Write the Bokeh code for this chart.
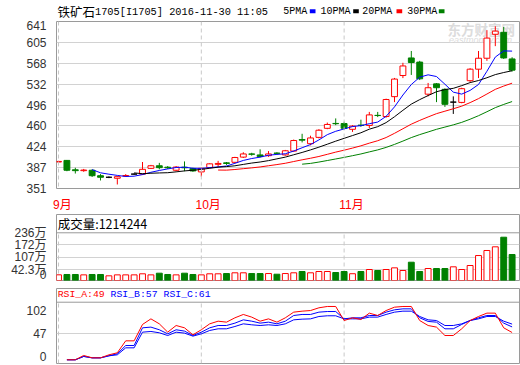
import numpy as np
import pandas as pd
from bokeh.plotting import figure
from bokeh.layouts import column
from bokeh.models import Range1d, FixedTicker, Span, ColumnDataSource, CustomJSTickFormatter
from bokeh.core.properties import value
from bokeh.embed import file_html
from bokeh.resources import INLINE

# ---------------- data ----------------
opens = [397, 399.8, 383.5, 382, 382.7, 373.2, 370.5, 368.8, 372.5, 376,
         376, 386, 390.5, 388, 382.7, 388, 385.5, 379.8, 387.2, 393,
         395.5, 396.5, 405.5, 411, 409.3, 408, 412.5, 409.3, 416, 436,
         428.8, 439.8, 455.5, 464, 463.8, 453.8, 461, 460.5, 478, 476,
         510.5, 547.2, 577.7, 570.5, 514.8, 532.7, 523.2, 501, 500.5, 538.2,
         558.2, 577.2, 618.8, 622.2, 576]
highs = [399, 400.5, 387, 385, 384, 376, 372, 372, 376, 377,
         397, 392, 395.5, 390, 390, 398, 387, 387, 395, 399,
         397, 406, 414, 413, 419, 416, 414, 418, 436, 446,
         442.7, 454, 465.5, 472.7, 467, 461, 470.5, 484, 484, 507,
         543, 569.3, 589.8, 572.7, 534.3, 534, 525, 511, 526, 560,
         589.8, 626, 632.7, 631.5, 579]
lows = [395, 381, 377, 380, 371, 365, 369, 358, 371, 375,
        375, 385, 384.3, 385, 381, 381, 380, 371.5, 386, 388,
        392, 395, 404, 408, 405, 406, 410, 408, 415, 431,
        426, 438, 454, 461, 453, 449.3, 458, 456, 475, 474,
        501, 542.7, 548.2, 539.3, 511, 501, 492.7, 480.5, 499, 536,
        542.7, 572.7, 598.2, 576, 554]
closes = [398, 382.7, 382, 383, 373.2, 370.5, 370.5, 371.5, 373.5, 376,
          384.3, 390.5, 387.2, 387, 388.2, 387, 381.5, 386, 393.8, 394.5,
          394.5, 404.8, 411, 410.5, 406.5, 411, 412, 416.5, 434.3, 435,
          438.8, 452.2, 462.2, 463.5, 455.5, 459.3, 460.5, 478.8, 477.7, 505.5,
          541, 563.8, 569.8, 541.5, 526, 526, 497.2, 501, 524.3, 558.2,
          577.2, 612.2, 624.3, 577.7, 556.5]
volumes = [14.3, 16, 16, 14, 16, 16, 9, 14, 14, 14,
           19.6, 14, 22.8, 16, 14, 22.8, 16, 14, 19.6, 19.6,
           21, 24.9, 24.9, 21, 21, 21, 17.5, 21, 24.9, 31.7,
           24.9, 31.7, 31.7, 26.5, 31.7, 20, 31.7, 42.3, 37, 42.3,
           51, 37, 80.8, 31.7, 47.6, 47.6, 47.6, 56.5, 42.3, 63.4,
           116, 142.6, 162, 212.7, 121.4]  # 万
# RSI values from index 1 onward
rsi_a = [10, 10, 16.2, 12.8, 12.8, 17.1, 20, 37.1, 37.1, 60.5,
         68.5, 61.4, 49.5, 59, 55.7, 45.7, 52.9, 61.4, 65.2, 63.8,
         70, 74.8, 71, 65.2, 68.5, 63.8, 70, 78.1, 79.5, 80.4,
         84.3, 86.2, 86.2, 66.1, 70, 67.6, 76.7, 73.3, 80.4, 85.2,
         86.2, 86.2, 66.1, 59, 56.7, 44.7, 44.7, 54.3, 66.1, 71.9,
         76.7, 76.7, 55.7, 49]
rsi_b = [10, 10, 14.8, 12.8, 12.8, 15.7, 18.6, 30.4, 30.4, 55.7,
         56.7, 52.9, 47.1, 52.9, 51, 44.7, 49.5, 55.7, 59, 59,
         62.4, 67.1, 65.2, 62.4, 63.8, 61.4, 65.2, 73.3, 74.8, 74.8,
         78.1, 79, 79, 68.5, 70, 70, 73.3, 73.3, 78.1, 81.4,
         82.8, 82.8, 70, 64.8, 63.8, 54.3, 54.3, 60.5, 66.1, 70,
         73.3, 73.3, 62.4, 57]
rsi_c = [10, 10, 14.8, 12.8, 12.8, 15.7, 17.1, 27.1, 27.1, 49.5,
         50.5, 48.6, 44.7, 49.5, 48.1, 43.8, 47.1, 51.9, 54.3, 54.3,
         57.6, 61.4, 60, 59, 60, 59, 61.4, 67.1, 68.1, 68.5,
         71.9, 72.9, 72.9, 68.5, 68.5, 68.5, 71, 71, 74.8, 78.1,
         79.5, 79.5, 71.9, 67.1, 66.1, 59, 59, 61.4, 66.1, 68.5,
         71.9, 71.9, 65.2, 61]

month_idx = [0, 17, 34]
month_labels = ["9月", "10月", "11月"]
price_ticks = [351, 387.25, 423.5, 459.75, 496, 532.25, 568.5, 604.75, 641]
price_labels = ["351", "387", "424", "460", "496", "532", "568", "605", "641"]
vol_ticks = [42.3, 107, 172, 236]
vol_labels = ["42.3万", "107万", "172万", "236万"]
rsi_labels = ["0", "47", "102"]
ma_periods = [5, 10, 20, 30]
ma_names = ["5PMA", "10PMA", "20PMA", "30PMA"]
rsi_names = ["RSI_A", "RSI_B", "RSI_C"]
rsi_last = [49, 57, 61]
title_name = "铁矿石"
title_code = "1705[I1705] 2016-11-30 11:05"
vol_title = "成交量:1214244"
watermark = "东方财富网"
watermark2 = "eastmoney.com"

# ---------------- styling ----------------
RED, GREEN, BLUE, BLACK = "#ff0000", "#008000", "#0000ff", "#000000"
GRID, FRAME, LABEL, DASH = "#d2d2d2", "#9a9a9a", "#333333", "#c8c8c8"
AXFONT = "'Liberation Sans', 'Noto Sans CJK SC'"
CJK = value("'Noto Sans CJK SC'")
MONO = value("'Liberation Mono'")
W, LB, RB = 520, 56, 1
ma_colors = [BLUE, BLACK, RED, GREEN]
rsi_colors = [RED, BLUE, BLUE]

n = len(closes)
idx = np.arange(n)
xr = Range1d(-0.24, 54.88)

def fmt(vals, labs):
    return CustomJSTickFormatter(args=dict(vals=list(vals), labs=list(labs)), code="""
        let b = 0;
        for (let i = 0; i < vals.length; i++) {
            if (Math.abs(vals[i] - tick) < Math.abs(vals[b] - tick)) b = i;
        }
        return labs[b];
    """)

def base(fig):
    fig.outline_line_color = FRAME
    fig.background_fill_color = "white"
    fig.border_fill_color = "white"
    fig.xgrid.visible = False
    fig.ygrid.grid_line_color = GRID
    for ax in fig.axis:
        ax.axis_line_color = None
        ax.major_tick_line_color = None
        ax.minor_tick_line_color = None

def style_y(fig, ticks, labels):
    ax = fig.yaxis[0]
    ax.ticker = FixedTicker(ticks=list(ticks))
    ax.formatter = fmt(ticks, labels)
    ax.major_label_text_font = AXFONT
    ax.major_label_text_font_size = "12px"
    ax.major_label_text_color = LABEL
    ax.major_label_standoff = 4

# ---------------- header (x in picture pixels of the plot frame) ----------------
hdr = figure(width=W, height=20, x_range=Range1d(56, 519), y_range=Range1d(0, 20),
             min_border_left=LB, min_border_right=RB, min_border_top=0, min_border_bottom=0,
             toolbar_location=None, output_backend="svg")
hdr.axis.visible = False
hdr.grid.visible = False
hdr.outline_line_color = None
hm = 9.0  # text middle
hdr.text(x=[57], y=[hm], text=[title_name], text_font=CJK, text_font_size="12.5px",
         text_baseline="middle", text_align="left", text_color=BLACK)
hdr.text(x=[94.5], y=[hm], text=[title_code], text_font=MONO, text_font_size="10.3px",
         text_baseline="middle", text_align="left", text_color=BLACK)
leg_x = [282.7, 320, 361.7, 406.7]
leg_sq = [(309.3, 315), (352.7, 358.3), (396, 401.7), (438.3, 444)]
hdr.text(x=leg_x, y=[hm] * 4, text=ma_names, text_font=MONO, text_font_size="10px",
         text_baseline="middle", text_align="left", text_color=BLACK)
hdr.quad(left=[a for a, b in leg_sq], right=[b for a, b in leg_sq], bottom=[7.3] * 4, top=[11.3] * 4,
         fill_color=ma_colors, line_color=None)

# ---------------- main price panel ----------------
p = figure(width=W, height=194, x_range=xr, y_range=Range1d(351, 641),
           min_border_left=LB, min_border_right=RB, min_border_top=1, min_border_bottom=19,
           toolbar_location=None, output_backend="svg")
base(p)
style_y(p, price_ticks, price_labels)
p.ygrid.ticker = FixedTicker(ticks=price_ticks)
month_off = [0.45, 0.82, 0.88]
mt = [m + o for m, o in zip(month_idx, month_off)]
p.xaxis.ticker = FixedTicker(ticks=mt)
p.xaxis.formatter = fmt(mt, month_labels)
p.xaxis.major_label_text_color = RED
p.xaxis.major_label_text_font = AXFONT
p.xaxis.major_label_text_font_size = "12px"
p.xaxis.major_label_text_line_height = 1.0
p.xaxis.major_label_standoff = 3
for m in month_idx:
    p.add_layout(Span(location=m, dimension="height", line_color=DASH, line_dash="4 3", line_width=1))

p.text(x=[46.3], y=[628.8], text=[watermark], text_font=CJK, text_font_size="13.5px",
       text_font_style="bold", text_color="#dcdcdc", text_baseline="middle", text_align="left")
p.text(x=[46.5], y=[609.3], text=[watermark2], text_font=value("'Liberation Sans'"), text_font_size="9px",
       text_font_style="italic", text_color="#dcdcdc", text_baseline="middle", text_align="left")

o = np.array(opens); h = np.array(highs); l = np.array(lows); c = np.array(closes)
col = np.where(c > o, RED, np.where(c < o, GREEN, BLACK))
fill = np.where(c > o, "white", np.where(c < o, GREEN, BLACK))
src = ColumnDataSource(dict(x=idx, h=h, l=l, top=np.maximum(o, c), bot=np.minimum(o, c),
                            col=list(col), fill=list(fill)))
p.segment(x0="x", y0="h", x1="x", y1="l", line_color="col", line_width=1, source=src)
p.vbar(x="x", width=0.7, top="top", bottom="bot", fill_color="fill", line_color="col",
       line_width=1, source=src)

cs = pd.Series(closes)
for per, colr in zip(ma_periods, ma_colors):
    ma = cs.rolling(per).mean()
    p.line(idx, ma.values, line_color=colr, line_width=1)

# ---------------- volume panel ----------------
vol_floor, vol_top = -15.7, 332.5
pv = figure(width=W, height=67, x_range=xr, y_range=Range1d(vol_floor, vol_top),
            min_border_left=LB, min_border_right=RB, min_border_top=0, min_border_bottom=1,
            toolbar_location=None, output_backend="svg")
base(pv)
pv.xaxis.visible = False
style_y(pv, [vol_floor] + vol_ticks, ["0"] + vol_labels)
pv.ygrid.ticker = FixedTicker(ticks=vol_ticks[:-1])
pv.add_layout(Span(location=vol_ticks[-1], dimension="width", line_color=FRAME, line_width=1))
pv.segment(x0=month_idx, y0=[vol_floor] * 3, x1=month_idx, y1=[vol_ticks[-1]] * 3,
           line_color=DASH, line_dash="4 3", line_width=1)
vcol = np.where(c >= o, RED, GREEN)
vfill = np.where(c >= o, "white", GREEN)
vsrc = ColumnDataSource(dict(x=idx, v=volumes, col=list(vcol), fill=list(vfill)))
pv.vbar(x="x", width=0.7, top="v", bottom=vol_floor, fill_color="fill", line_color="col",
        line_width=1, source=vsrc)
pv.text(x=[-0.1], y=[284], text=[vol_title], text_font=CJK, text_font_size="12.5px",
        text_color=BLACK, text_baseline="middle", text_align="left")

# ---------------- RSI panel ----------------
rsi_lo, rsi_hi, rsi_sep = 4.7, 111.9, 92.3
rsi_tick_pos = [15.4, 47.1, 81.1]
pr = figure(width=W, height=83, x_range=xr, y_range=Range1d(rsi_lo, rsi_hi),
            min_border_left=LB, min_border_right=RB, min_border_top=7, min_border_bottom=1,
            toolbar_location=None, output_backend="svg")
base(pr)
pr.xaxis.visible = False
style_y(pr, rsi_tick_pos, rsi_labels)
pr.ygrid.ticker = FixedTicker(ticks=[rsi_tick_pos[1]])
pr.add_layout(Span(location=rsi_sep, dimension="width", line_color=FRAME, line_width=1))
pr.segment(x0=month_idx, y0=[rsi_lo] * 3, x1=month_idx, y1=[rsi_sep] * 3,
           line_color=DASH, line_dash="4 3", line_width=1)
for series, colr in zip([rsi_c, rsi_b, rsi_a], [BLUE, BLUE, RED]):
    pr.line(idx[1:], series, line_color=colr, line_width=1)
rx = [-0.1, 6.19, 12.5]
pr.text(x=rx, y=[103.3] * 3, text=[f"{a}:{b}" for a, b in zip(rsi_names, rsi_last)],
        text_font=MONO, text_font_size="9.8px", text_color=rsi_colors,
        text_baseline="middle", text_align="left")

layout = column(hdr, p, pv, pr, spacing=0)
open("out.html", "w").write(file_html(layout, INLINE))
